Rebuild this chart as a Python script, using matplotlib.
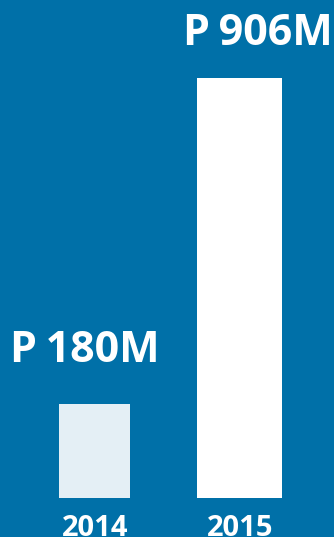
import matplotlib
matplotlib.use("Agg")
import matplotlib.pyplot as plt

years = ["2014", "2015"]
values = [180, 906]
value_labels = ["P\u2009180M", "P\u2009906M"]
bar_colors = ["#E4EFF5", "#FFFFFF"]
bar_widths = [0.49, 0.586]

W, H = 334, 537
BG = "#0070A8"
fig = plt.figure(figsize=(W / 100, H / 100), dpi=100, facecolor=BG)
ax = fig.add_axes([0, 0, 1, 1])
ax.set_facecolor(BG)

base = -28
px = 145.0  # pixels per x unit
ax.set_xlim(-94.5 / px, (W - 94.5) / px)
scale = (values[1] - base) / 420.0
ax.set_ylim(base - 39 * scale, values[1] + 78 * scale)

xs = list(range(len(years)))
ax.bar(xs, [v - base for v in values], bottom=base, width=bar_widths,
       color=bar_colors, linewidth=0)

font = ["Open Sans", "DejaVu Sans"]
# value labels
fig.text(10 / W, 1 - 362.5 / H, value_labels[0], color="white", fontsize=31,
         fontweight="bold", family=font, ha="left", va="baseline")
fig.text(333 / W, 1 - 45.5 / H, value_labels[1], color="white", fontsize=31,
         fontweight="bold", family=font, ha="right", va="baseline")
# year labels
for x, y in zip(xs, years):
    ax.text(x + 0.005, base - 37.5 * scale, y, color="white", fontsize=21,
            fontweight="bold", family=font, ha="center", va="baseline")

ax.axis("off")
fig.savefig("out.png", dpi=100, facecolor=BG)
